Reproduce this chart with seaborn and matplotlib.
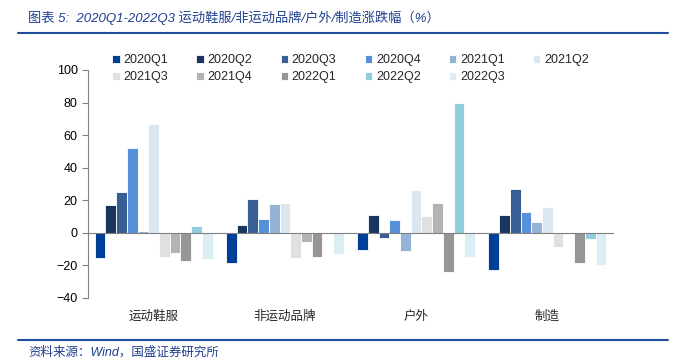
import matplotlib
matplotlib.use('Agg')
import matplotlib.pyplot as plt
import matplotlib.transforms as mtransforms
import seaborn as sns
import pandas as pd

# 데이터
categories = ['运动鞋服', '非运动品牌', '户外', '制造']
periods = ['2020Q1', '2020Q2', '2020Q3', '2020Q4', '2021Q1', '2021Q2',
           '2021Q3', '2021Q4', '2022Q1', '2022Q2', '2022Q3']

sports = [-15.3, 17.3, 25.1, 52.0, 1.2, 67.1, -14.9, -12.2, -17.1, 4.1, -16.3]
non_sports = [-18.6, 4.7, 20.6, 8.4, 17.6, 18.6, -15.5, -5.7, -14.7, 0.0, -13.1]
outdoor = [-10.6, 11.0, -3.3, 8.0, -11.2, 26.5, 10.6, 18.4, -24.1, 79.6, -15.1]
manufacture = [-22.7, 11.0, 26.9, 13.1, 6.9, 16.1, -8.4, -0.8, -18.6, -3.9, -19.8]

colors = ['#003f98', '#1a365f', '#375f94', '#5590d8', '#95b3d7', '#dce6f1',
          '#e0e0e0', '#b3b3b3', '#969696', '#92cddc', '#daeef3']

title = '图表 5:  2020Q1-2022Q3 运动鞋服/非运动品牌/户外/制造涨跌幅（%）'
source = '资料来源：Wind，国盛证券研究所'

rows = []
for cat, vals in zip(categories, [sports, non_sports, outdoor, manufacture]):
    for p, v in zip(periods, vals):
        rows.append({'cat': cat, 'period': p, 'val': v})
df = pd.DataFrame(rows)

sns.set_style('white')
plt.rcParams['font.family'] = ['Liberation Sans', 'Noto Sans CJK SC', 'DejaVu Sans']

fig = plt.figure(figsize=(6.75, 3.62), dpi=100)
ax = fig.add_axes([88 / 675, 64 / 362, 525 / 675, 228 / 362])

sns.barplot(data=df, x='cat', y='val', hue='period', palette=colors,
            order=categories, hue_order=periods, width=0.9, saturation=1,
            edgecolor='white', linewidth=0.6, ax=ax)

ax.set_ylim(-40, 100)
ax.set_yticks(range(-40, 101, 20))
ax.set_xlim(-0.5, 3.5)
ax.set_xlabel('')
ax.set_ylabel('')

# 축 스타일
for s in ['top', 'right']:
    ax.spines[s].set_visible(False)
ax.spines['bottom'].set_position(('data', 0))
ax.spines['bottom'].set_color('#808080')
ax.spines['left'].set_color('#808080')
ax.set_xticks([0.5, 1.5, 2.5, 3.5])
ax.set_xticklabels([])
ax.tick_params(axis='x', direction='out', length=4, color='#808080')
ax.tick_params(axis='y', direction='out', length=4, color='#808080',
               labelsize=9, labelcolor='black', left=True)

trans = mtransforms.blended_transform_factory(ax.transData, ax.transAxes)
for i, cat in enumerate(categories):
    ax.text(i, -0.08, cat, transform=trans, ha='center', va='center',
            fontsize=9, family=['Noto Sans CJK SC'])

# 범례 (행 우선 순서)
handles, labels = ax.get_legend_handles_labels()
ax.get_legend().remove()
order = [0, 6, 1, 7, 2, 8, 3, 9, 4, 10, 5]
fig.legend([handles[i] for i in order], [labels[i] for i in order],
           ncol=6, loc='upper left', bbox_to_anchor=(101 / 675, 1 - 43 / 362),
           frameon=False, fontsize=9, handlelength=0.6, handleheight=0.6,
           handletextpad=0.3, columnspacing=2.25, labelspacing=0.4)

# 제목, 출처
fig.text(28 / 675, 1 - 18 / 362, title, ha='left', va='center', fontsize=9.5,
         color='#1f3f8f', style='italic')
fig.add_artist(plt.Line2D([18 / 675, 668 / 675], [1 - 33 / 362, 1 - 33 / 362],
                          color='#1f4e9c', linewidth=1.5))
fig.add_artist(plt.Line2D([18 / 675, 668 / 675], [1 - 340 / 362, 1 - 340 / 362],
                          color='#1f4e9c', linewidth=1.5))
fig.text(28 / 675, 1 - 352 / 362, source, ha='left', va='center', fontsize=9,
         color='#1f3f8f', style='italic')

fig.savefig('out.png', dpi=100)
